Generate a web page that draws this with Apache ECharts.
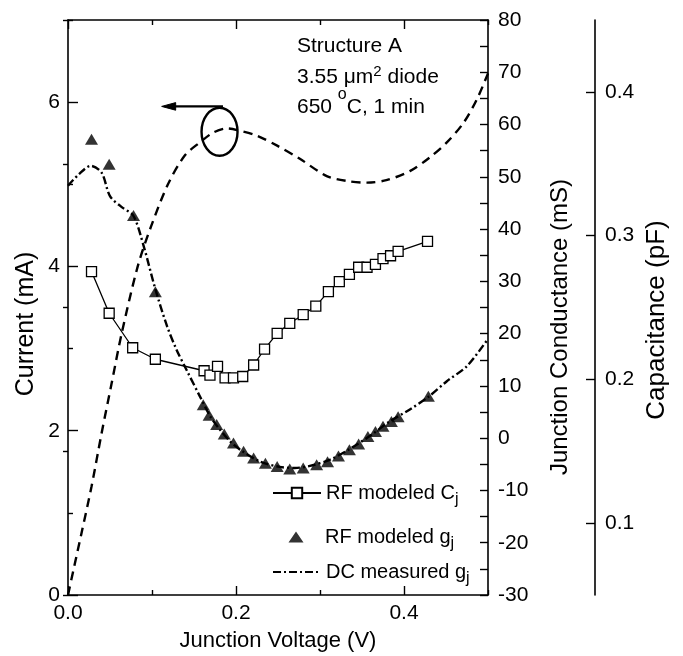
<!DOCTYPE html>
<html><head><meta charset="utf-8">
<script src="https://cdn.jsdelivr.net/npm/echarts@6/dist/echarts.min.js"></script>
<style>html,body{margin:0;padding:0;background:#fff}#c{width:683px;height:656px}</style>
</head><body><div id="c"></div>
<script>
// ---------- data ----------
// Dashed curve: measured current (left axis, mA) vs junction voltage (V)
const voltageCurrent = [0, 0.016, 0.028, 0.040, 0.052, 0.064, 0.083, 0.099, 0.119, 0.139, 0.157, 0.173, 0.189, 0.205, 0.225, 0.249, 0.276, 0.308, 0.332, 0.356, 0.379, 0.407, 0.431, 0.451, 0.471, 0.487, 0.500];
const currentValues  = [0, 0.75, 1.32, 1.97, 2.58, 3.19, 4.00, 4.49, 5.00, 5.35, 5.51, 5.63, 5.68, 5.65, 5.59, 5.47, 5.31, 5.10, 5.04, 5.02, 5.05, 5.16, 5.33, 5.51, 5.75, 6.04, 6.35];

// Open squares: RF modeled Cj (capacitance axis, pF)
const voltageCj = [0.028, 0.049, 0.077, 0.104, 0.162, 0.169, 0.178, 0.187, 0.197, 0.208, 0.221, 0.234, 0.249, 0.264, 0.280, 0.295, 0.310, 0.323, 0.335, 0.346, 0.356, 0.366, 0.375, 0.384, 0.393, 0.428];
const capacitanceCj = [0.275, 0.246, 0.222, 0.214, 0.206, 0.203, 0.209, 0.201, 0.201, 0.202, 0.210, 0.221, 0.232, 0.239, 0.245, 0.251, 0.261, 0.268, 0.273, 0.278, 0.278, 0.280, 0.284, 0.286, 0.289, 0.296];

// Filled triangles: RF modeled gj (conductance axis, mS)
const voltageGjRF = [0.028, 0.049, 0.078, 0.104, 0.161, 0.168, 0.177, 0.186, 0.197, 0.209, 0.221, 0.235, 0.249, 0.264, 0.280, 0.296, 0.309, 0.322, 0.335, 0.346, 0.357, 0.366, 0.375, 0.385, 0.393, 0.429];
const conductanceGjRF = [57.2, 52.4, 42.6, 28.0, 6.4, 4.4, 2.6, 0.8, -0.9, -2.5, -3.8, -4.8, -5.4, -5.9, -5.7, -5.1, -4.5, -3.4, -2.2, -1.1, 0.3, 1.3, 2.3, 3.2, 4.1, 8.0];

// Dash-dot curve: DC measured gj (conductance axis, mS)
const voltageGjDC = [0, 0.013, 0.027, 0.040, 0.050, 0.064, 0.078, 0.090, 0.104, 0.118, 0.129, 0.141, 0.157, 0.170, 0.181, 0.193, 0.205, 0.229, 0.252, 0.270, 0.288, 0.312, 0.336, 0.360, 0.383, 0.407, 0.429, 0.451, 0.475, 0.500];
const conductanceGjDC = [48.3, 50.5, 52.1, 50.8, 46.3, 44.2, 42.5, 36.8, 28.5, 21.4, 17.0, 13.1, 8.0, 4.0, 1.6, -0.6, -2.2, -4.5, -5.5, -5.7, -5.3, -4.1, -2.0, 0.5, 3.2, 5.5, 7.9, 10.9, 13.8, 19.0];

// Tick values
const voltageMajorTicks = [0, 0.2, 0.4];
const voltageMinorTicks = [0.1, 0.3, 0.5];
const currentMajorTicks = [0, 2, 4, 6];
const currentMinorTicks = [1, 3, 5, 7];
const conductanceLabelTicks = [-30, -20, -10, 0, 10, 20, 30, 40, 50, 60, 70, 80];
const conductanceAllTicks = [-30, -25, -20, -15, -10, -5, 0, 5, 10, 15, 20, 25, 30, 35, 40, 45, 50, 55, 60, 65, 70, 75, 80];
const capacitanceMajorTicks = [0.1, 0.2, 0.3, 0.4];
const capacitanceMinorTicks = [0.05, 0.15, 0.25, 0.35, 0.45];

// Text
const seriesNames = ['Current', 'RF modeled Cj', 'RF modeled gj', 'DC measured gj'];
const legendRich = {
  'RF modeled Cj': 'RF modeled C{sub|j}',
  'RF modeled gj': 'RF modeled g{sub|j}',
  'DC measured gj': 'DC measured g{sub|j}'
};
const noteLines = ['Structure A', '3.55 {mu|\u03bc}m{sup|2} diode', '650 {deg|o}C, 1 min'];
const axisTitles = {x: 'Junction Voltage (V)', current: 'Current (mA)', conductance: 'Junction Conductance (mS)', capacitance: 'Capacitance (pF)'};

// ---------- chart ----------
const FONT = 'Liberation Sans, Arial, Helvetica, sans-serif';
const K = '#000';
const zip = (xs, ys) => xs.map((x, i) => [x, ys[i]]);

function xAx(pos, ticks, len, showLine, showLabel) {
  return {
    type: 'value', position: pos, min: 0, max: 0.5, interval: 0.1,
    axisLine: {show: showLine, onZero: false, lineStyle: {color: K, width: 1.6}},
    axisTick: {show: true, inside: true, length: len, customValues: ticks, lineStyle: {color: K, width: 1.4}},
    axisLabel: {show: showLabel, customValues: ticks, margin: 8, fontSize: 21, fontFamily: FONT, color: K,
      formatter: v => (Math.round(v * 10) % 2 === 0 && v < 0.45 ? v.toFixed(1) : '')},
    splitLine: {show: false}
  };
}
function yAx(o) {
  return Object.assign({type: 'value', splitLine: {show: false}}, o);
}
const tickStyle = {color: K, width: 1.4};
const labelBase = {fontSize: 21, fontFamily: FONT, color: K};
const legendText = {fontSize: 20, fontFamily: FONT, color: K, lineHeight: 30,
  rich: {sub: {fontSize: 16, fontFamily: FONT, color: K, lineHeight: 10, verticalAlign: 'bottom'}}};
// legend icon: a 15x11 triangle centred in a 48-wide box
const triangleIcon = 'path://M0,0L0.01,0.01L0,0.01ZM16.5,11L24,0L31.5,11ZM48,11L47.99,10.99L48,10.99Z';

const option = {
  animation: false,
  backgroundColor: '#fff',
  grid: {left: 68, right: 195, top: 20, bottom: 61, containLabel: false},
  xAxis: [
    xAx('bottom', voltageMajorTicks, 9, true, true),
    xAx('bottom', voltageMinorTicks, 5, false, false),
    xAx('top', voltageMajorTicks, 9, true, false),
    xAx('top', voltageMinorTicks, 5, false, false)
  ],
  yAxis: [
    yAx({position: 'left', min: 0, max: 7, interval: 1,
      axisLine: {show: true, onZero: false, lineStyle: {color: K, width: 1.6}},
      axisTick: {show: true, inside: true, length: 10, customValues: currentMajorTicks, lineStyle: tickStyle},
      axisLabel: Object.assign({show: true, customValues: currentMajorTicks, margin: 8,
        formatter: v => (v % 2 === 0 && v < 7 ? String(v) : '')}, labelBase)}),
    yAx({position: 'left', min: 0, max: 7, interval: 1,
      axisLine: {show: false},
      axisTick: {show: true, inside: true, length: 5, customValues: currentMinorTicks, lineStyle: tickStyle},
      axisLabel: {show: false}}),
    yAx({position: 'right', min: -30, max: 80, interval: 5,
      axisLine: {show: true, onZero: false, lineStyle: {color: K, width: 1.6}},
      axisTick: {show: true, inside: true, length: 8, customValues: conductanceAllTicks, lineStyle: tickStyle},
      axisLabel: Object.assign({show: true, customValues: conductanceLabelTicks, margin: 10,
        formatter: v => (v % 10 === 0 ? String(v) : '')}, labelBase)}),
    yAx({position: 'right', offset: 107, min: 0.05, max: 0.45, interval: 0.05,
      axisLine: {show: true, onZero: false, lineStyle: {color: K, width: 1.6}},
      axisTick: {show: true, inside: true, length: 9, customValues: capacitanceMajorTicks, lineStyle: tickStyle},
      axisLabel: Object.assign({show: true, customValues: capacitanceMajorTicks, margin: 10,
        formatter: v => (Math.abs(v * 10 - Math.round(v * 10)) < 1e-6 ? v.toFixed(1) : '')}, labelBase)}),
    yAx({position: 'right', offset: 107, min: 0.05, max: 0.45, interval: 0.05,
      axisLine: {show: false},
      axisTick: {show: true, inside: true, length: 5, customValues: capacitanceMinorTicks, lineStyle: tickStyle},
      axisLabel: {show: false}})
  ],
  legend: [
    {data: [seriesNames[1]], left: 272, top: 478, itemHeight: 13},
    {data: [{name: seriesNames[2], icon: triangleIcon}], left: 272, top: 522, itemHeight: 11,
      symbolKeepAspect: false},
    {data: [seriesNames[3]], left: 272, top: 557, itemHeight: 13,
      itemStyle: {color: 'rgba(0,0,0,0)', borderColor: 'rgba(0,0,0,0)', borderWidth: 0, opacity: 0}}
  ].map(l => Object.assign({
    orient: 'vertical', padding: 0, itemGap: 0, itemWidth: 48, selectedMode: false,
    formatter: name => legendRich[name],
    textStyle: legendText
  }, l)),
  series: [
    {name: seriesNames[0], type: 'line', xAxisIndex: 0, yAxisIndex: 0, data: zip(voltageCurrent, currentValues),
      smooth: 0.3, symbol: 'none', lineStyle: {color: K, width: 2.4, type: [9, 6]}, itemStyle: {color: K}, z: 3},
    {name: seriesNames[3], type: 'line', xAxisIndex: 0, yAxisIndex: 2, data: zip(voltageGjDC, conductanceGjDC),
      smooth: 0.3, symbol: 'none', lineStyle: {color: K, width: 2.4, type: [8, 3, 2, 3]}, itemStyle: {color: K}, z: 3},
    {name: seriesNames[1], type: 'line', xAxisIndex: 0, yAxisIndex: 3, data: zip(voltageCj, capacitanceCj),
      symbol: 'rect', symbolSize: 10, showAllSymbol: true,
      lineStyle: {color: K, width: 1.3}, itemStyle: {color: '#fff', borderColor: K, borderWidth: 1.3}, z: 4},
    {name: seriesNames[2], type: 'scatter', xAxisIndex: 0, yAxisIndex: 2, data: zip(voltageGjRF, conductanceGjRF),
      symbol: 'triangle', symbolSize: [13, 11], itemStyle: {color: K}, z: 5}
  ]
};

const chart = echarts.init(document.getElementById('c'), null, {renderer: 'canvas'});
chart.setOption(option);

// ---------- annotations ----------
const ellipseAnchor = [0.1804, 5.64];   // data coords (V, mA)
const arrowStart = [0.1845, 5.948];
const arrowTip = [0.1115, 5.948];
const p = v => chart.convertToPixel({xAxisIndex: 0, yAxisIndex: 0}, v);
const ec = p(ellipseAnchor), a0 = p(arrowStart), a1 = p(arrowTip);

const noteText = (text, y, lh) => ({
  type: 'text', x: 297, y: y, z: 10,
  style: {text: text, x: 0, y: 0, fill: K, font: '21px ' + FONT, fontSize: 21, fontFamily: FONT,
    align: 'left', textAlign: 'left', verticalAlign: 'middle', textVerticalAlign: 'middle', lineHeight: lh,
    rich: {
      sup: {fontSize: 15, fontFamily: FONT, fill: K, color: K, lineHeight: 14, verticalAlign: 'top'},
      deg: {fontSize: 16, fontFamily: FONT, fill: K, color: K, lineHeight: 14, verticalAlign: 'top'},
      mu: {fontSize: 21, fontFamily: FONT, fill: K, color: K, lineHeight: lh}
    }}
});
const titleText = (text, x, y, rot, size) => ({
  type: 'text', x: x, y: y, rotation: rot, z: 10,
  style: {text: text, x: 0, y: 0, fill: K, font: size + 'px ' + FONT, fontSize: size, fontFamily: FONT,
    align: 'center', textAlign: 'center', verticalAlign: 'middle', textVerticalAlign: 'middle'}
});

chart.setOption({
  graphic: [
    noteText(noteLines[0], 46, 26),
    noteText(noteLines[1], 77, 26),
    noteText(noteLines[2], 107, 40),
    titleText(axisTitles.x, 278, 641, 0, 22),
    titleText(axisTitles.current, 26, 324, Math.PI / 2, 25),
    titleText(axisTitles.conductance, 560, 327, Math.PI / 2, 24),
    titleText(axisTitles.capacitance, 657, 320, Math.PI / 2, 26),
    {type: 'ellipse', z: 10, shape: {cx: ec[0], cy: ec[1], rx: 18, ry: 24},
      style: {fill: 'none', stroke: K, lineWidth: 2.4}},
    {type: 'line', z: 10, shape: {x1: a0[0], y1: a0[1], x2: a1[0] + 10, y2: a1[1]},
      style: {stroke: K, lineWidth: 2.4}},
    {type: 'polygon', z: 10, shape: {points: [[a1[0], a1[1]], [a1[0] + 14, a1[1] - 3.8], [a1[0] + 14, a1[1] + 3.8]]},
      style: {fill: K, stroke: K, lineWidth: 1}}
  ]
});
</script>
</body></html>
